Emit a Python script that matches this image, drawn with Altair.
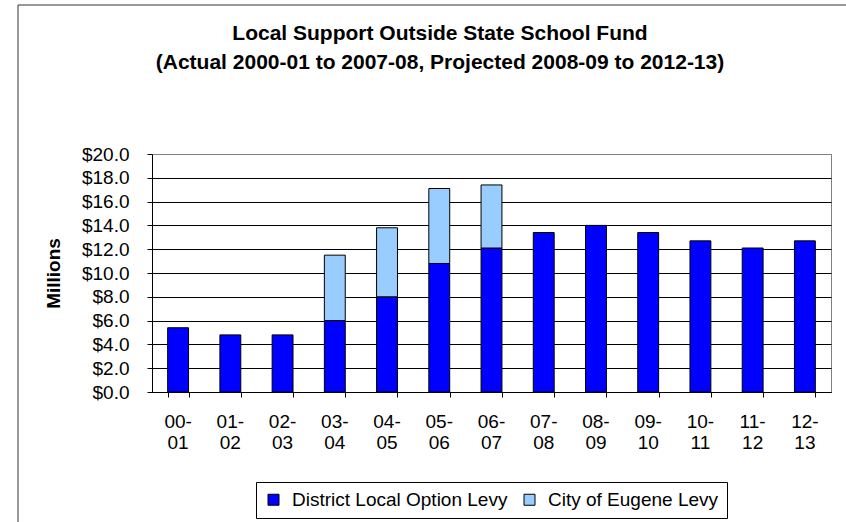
import altair as alt
import pandas as pd

# ---- data ----
years = ["00-01", "01-02", "02-03", "03-04", "04-05", "05-06", "06-07",
         "07-08", "08-09", "09-10", "10-11", "11-12", "12-13"]
district = [5.4, 4.8, 4.8, 6.0, 8.0, 10.8, 12.1, 13.4, 14.0, 13.4, 12.7, 12.1, 12.7]
city = [None, None, None, 5.5, 5.8, 6.3, 5.3, None, None, None, None, None, None]
series = ["District Local Option Levy", "City of Eugene Levy"]
colors = ["#0000FF", "#99CCFF"]
y_ticks = [0, 2, 4, 6, 8, 10, 12, 14, 16, 18, 20]
title_lines = ["Local Support Outside State School Fund",
               "(Actual 2000-01 to 2007-08, Projected 2008-09 to 2012-13)"]
y_title = "Millions"

rows = []
for i, yr in enumerate(years):
    rows.append({"year": yr, "series": series[0], "value": district[i], "rank": 0})
    if city[i] is not None:
        rows.append({"year": yr, "series": series[1], "value": city[i], "rank": 1})
df = pd.DataFrame(rows)
# two-line category labels ("00-" / "01")
labels_df = pd.DataFrame({
    "year": years,
    "line1": [y.split("-")[0] + "-" for y in years],
    "line2": [y.split("-")[1] for y in years],
})

FONT = "Liberation Sans"

x_axis = alt.Axis(
    title=None, labels=False,
    tickBand="extent", tickSize=5, tickColor="black",
    domainColor="black", grid=False,
)
x_scale = alt.Scale(paddingInner=0.6, paddingOuter=0.3)

bars = alt.Chart(df).mark_bar(stroke="black", strokeWidth=1).encode(
    x=alt.X("year:N", sort=years, scale=x_scale, axis=x_axis),
    y=alt.Y(
        "value:Q", stack="zero",
        scale=alt.Scale(domain=[0, 20], nice=False),
        axis=alt.Axis(
            values=y_ticks, format="$.1f", title=y_title,
            titleFont=FONT, titleFontSize=19, titleFontWeight="bold",
            titleColor="black", titleAngle=270, titleX=-99, titleY=119,
            titleAlign="center", titleBaseline="middle",
            labelFont=FONT, labelFontSize=19, labelColor="black",
            labelPadding=18, tickSize=5, tickColor="black",
            domainColor="black",
            gridColor={"condition": {"test": "datum.value == 20", "value": "#808080"},
                       "value": "#000000"},
            gridWidth=1,
        ),
    ),
    color=alt.Color(
        "series:N",
        scale=alt.Scale(domain=series, range=colors),
        legend=alt.Legend(
            title=None, orient="none", legendX=104, legendY=328,
            direction="horizontal", strokeColor="black", padding=8,
            symbolType="square", symbolSize=121, symbolStrokeColor="black",
            symbolStrokeWidth=1, labelLimit=500,
            labelFont=FONT, labelFontSize=19, labelColor="black",
            labelOffset=9, columnPadding=12,
        ),
    ),
    order=alt.Order("rank:Q", sort="ascending"),
)

first_line = alt.Chart(labels_df).mark_text(
    font=FONT, fontSize=19, color="black", baseline="middle", align="center"
).encode(
    x=alt.X("year:N", sort=years, scale=x_scale, axis=x_axis),
    y=alt.value(268),
    text="line1:N",
)

second_line = alt.Chart(labels_df).mark_text(
    font=FONT, fontSize=19, color="black", baseline="middle", align="center"
).encode(
    x=alt.X("year:N", sort=years, scale=x_scale, axis=x_axis),
    y=alt.value(289),
    text="line2:N",
)

border = alt.Chart(alt.Data(values=[{}])).mark_rect(
    fill="white", fillOpacity=0, stroke="#333333", strokeWidth=1
).encode(
    x=alt.value(-134), x2=alt.value(900), y=alt.value(-149), y2=alt.value(600)
)

chart = alt.layer(border, bars, first_line, second_line).properties(
    width=679, height=238,
    title=alt.TitleParams(
        text=title_lines, font=FONT, fontSize=21, fontWeight="bold",
        color="black", anchor="middle", frame="group", dx=-51.5,
        offset=0, dy=89, baseline="bottom", lineHeight=29,
    ),
    padding={"left": 152, "top": 154, "right": 15, "bottom": 130},
    autosize=alt.AutoSizeParams(type="none"),
).configure_view(stroke="#808080", strokeWidth=1)

chart.save("out.html", embed_options={"renderer": "svg", "actions": False})
